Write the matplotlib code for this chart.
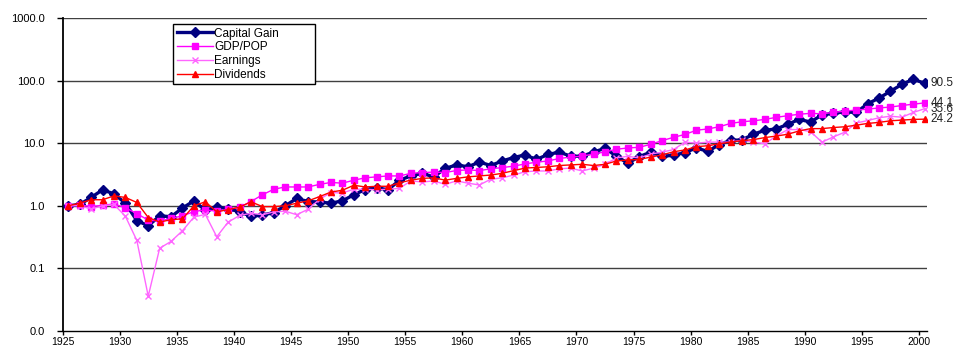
import numpy as np
import matplotlib
matplotlib.use('Agg')
import matplotlib.pyplot as plt
from matplotlib.ticker import FixedLocator, FuncFormatter

plt.rcParams['font.family'] = ['Liberation Sans', 'DejaVu Sans']

years = list(range(1925, 2001))

capital_gain = [1.0, 1.05, 1.36, 1.8, 1.55, 1.1, 0.58, 0.48, 0.69, 0.67,
                0.92, 1.2, 0.85, 0.95, 0.9, 0.8, 0.68, 0.71, 0.78, 1.0,
                1.31, 1.17, 1.15, 1.1, 1.2, 1.5, 1.82, 1.95, 1.8, 2.56,
                3.0, 3.3, 2.9, 3.95, 4.5, 4.2, 5.0, 4.4, 5.2, 5.9,
                6.5, 5.5, 6.6, 7.2, 6.2, 6.2, 7.2, 8.3, 6.2, 4.8,
                6.1, 7.2, 6.2, 6.4, 7.1, 8.4, 7.4, 9.5, 11.1, 11.3,
                13.9, 16.1, 16.9, 20.0, 24.0, 21.8, 28.3, 30.0, 31.8, 31.0,
                42.6, 52.6, 67.6, 87.0, 105.0, 90.5]

gdp_pop = [1.0, 1.03, 0.97, 1.02, 1.07, 0.93, 0.75, 0.59, 0.57, 0.63,
           0.69, 0.81, 0.86, 0.82, 0.88, 0.95, 1.17, 1.5, 1.84, 2.0,
           2.0, 2.0, 2.2, 2.36, 2.3, 2.56, 2.8, 2.9, 3.0, 3.0,
           3.3, 3.4, 3.45, 3.4, 3.66, 3.75, 3.65, 3.9, 4.08, 4.3,
           4.67, 4.97, 5.2, 5.7, 6.0, 6.2, 6.75, 7.25, 8.0, 8.4,
           8.6, 9.6, 11.0, 12.4, 13.8, 16.1, 16.9, 18.3, 20.7, 22.0,
           22.8, 24.0, 25.9, 27.5, 29.0, 30.0, 29.5, 31.0, 32.6, 33.8,
           35.0, 36.6, 37.8, 40.0, 42.0, 44.1]

earnings = [1.0, 1.0, 0.89, 1.0, 1.05, 0.68, 0.28, 0.036, 0.21, 0.27,
            0.40, 0.66, 0.73, 0.32, 0.55, 0.70, 0.76, 0.72, 0.80, 0.82,
            0.72, 0.88, 1.27, 1.63, 1.6, 1.84, 1.84, 1.8, 1.84, 1.9,
            2.5, 2.4, 2.5, 2.2, 2.5, 2.3, 2.15, 2.66, 2.8, 3.1,
            3.5, 3.6, 3.6, 3.9, 4.0, 3.6, 4.0, 4.6, 5.8, 6.2,
            5.8, 6.7, 7.2, 7.9, 10.4, 10.0, 10.4, 10.4, 10.4, 11.2,
            10.4, 9.8, 13.0, 16.5, 16.5, 15.3, 10.4, 12.6, 15.0, 21.0,
            23.0, 25.5, 27.0, 26.0, 31.0, 35.6]

dividends = [1.0, 1.1, 1.25, 1.25, 1.44, 1.36, 1.13, 0.65, 0.55, 0.6,
             0.62, 1.0, 1.16, 0.8, 0.87, 0.95, 1.16, 0.97, 0.97, 1.0,
             1.1, 1.2, 1.4, 1.66, 1.77, 2.13, 2.0, 2.05, 2.05, 2.33,
             2.57, 2.74, 2.8, 2.57, 2.74, 2.9, 3.0, 3.1, 3.3, 3.65,
             4.0, 4.1, 4.2, 4.4, 4.5, 4.6, 4.4, 4.6, 5.2, 5.4,
             5.5, 6.0, 6.5, 7.3, 7.8, 8.8, 9.1, 9.8, 10.4, 11.0,
             11.4, 12.3, 13.0, 13.9, 15.7, 17.1, 17.1, 17.8, 18.3, 19.4,
             20.7, 21.5, 22.8, 23.4, 24.0, 24.2]

tick_years = list(range(1925, 2001, 5))
y_ticks = [0.01, 0.1, 1, 10, 100, 1000]

fig = plt.figure(figsize=(9.59, 3.47), dpi=100)
ax = fig.add_axes([62.6 / 959, 16 / 347, (927 - 62.6) / 959, (331 - 18) / 347])

ax.plot(years, capital_gain, color='#000080', lw=2.4, marker='D', ms=5.5,
        label='Capital Gain', zorder=3)
ax.plot(years, gdp_pop, color='#FF00FF', lw=1, marker='s', ms=5,
        label='GDP/POP', zorder=4)
ax.plot(years, earnings, color='#FF66FF', lw=1, marker='x', ms=5, mew=1,
        label='Earnings', zorder=5)
ax.plot(years, dividends, color='#FF0000', lw=1, marker='^', ms=5,
        label='Dividends', zorder=6)

ax.set_yscale('log')
ax.set_ylim(0.01, 1000)
ax.yaxis.set_major_locator(FixedLocator(y_ticks))
ax.yaxis.set_minor_locator(FixedLocator([]))
ax.yaxis.set_major_formatter(FuncFormatter(lambda v, p: '%.1f' % v))
for v in y_ticks[1:]:
    ax.axhline(v, color='#404040', lw=1, zorder=1)

ax.set_xlim(1924.5, 2000.2)
ax.set_xticks([y - 0.5 for y in tick_years])
ax.set_xticklabels([str(y) for y in tick_years])

for s in ['top', 'right']:
    ax.spines[s].set_visible(False)
ax.spines['left'].set_linewidth(1.3)
ax.spines['bottom'].set_linewidth(1)
ax.tick_params(axis='x', direction='out', length=3, width=1,
               labelsize=7.5, colors='black', pad=1)
ax.tick_params(axis='y', direction='out', length=4, width=1,
               labelsize=8, colors='black', pad=9)

# end-of-series labels
for vals in [capital_gain, gdp_pop, earnings, dividends]:
    ax.annotate('%.1f' % vals[-1], xy=(years[-1], vals[-1]), xytext=(4, 0),
                textcoords='offset points', va='center', ha='left',
                fontsize=8.5, color='#222222', annotation_clip=False)

leg = ax.legend(loc='upper left',
                bbox_to_anchor=(173 / 959, 1 - 78 / 347, 142 / 959, 54 / 347),
                bbox_transform=fig.transFigure, mode='expand',
                fontsize=8.5, frameon=True, fancybox=False,
                edgecolor='black', framealpha=1,
                handlelength=3.1, handletextpad=0.1, labelspacing=0.15,
                borderpad=0.3, borderaxespad=0)
leg.get_frame().set_linewidth(1)

fig.savefig('out.png', dpi=100)
